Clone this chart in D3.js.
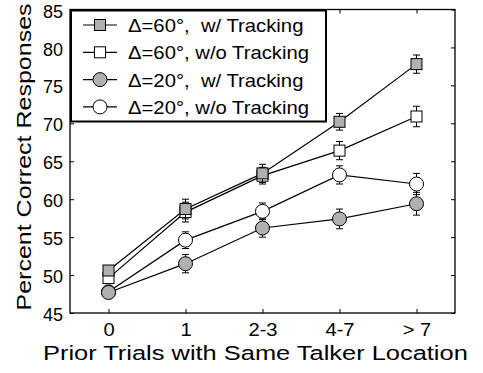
<!DOCTYPE html>
<html>
<head>
<meta charset="utf-8">
<script src="https://cdn.jsdelivr.net/npm/d3@7"></script>
<style>
  body { margin: 0; background: #fff; }
  svg text { font-family: "Liberation Sans", Arial, sans-serif; fill: #000; }
</style>
</head>
<body>
<div id="chart"></div>
<script>
const categories = ['0', '1', '2-3', '4-7', '> 7'];
const yTicks = [45, 50, 55, 60, 65, 70, 75, 80, 85];

const seriesNames = ['\u0394=60\u00b0,  w/ Tracking', '\u0394=60\u00b0, w/o Tracking', '\u0394=20\u00b0,  w/ Tracking', '\u0394=20\u00b0, w/o Tracking'];

const d60With = [50.6, 58.7, 63.4, 70.2, 77.8];
const d60Without = [49.6, 58.3, 63.1, 66.4, 70.9];
const d20With = [47.7, 51.5, 56.2, 57.4, 59.4];
const d20Without = [47.8, 54.6, 58.4, 63.2, 62.0];

const d60WithErr = [0.5, 1.3, 1.2, 1.1, 1.2];
const d60WithoutErr = [0.5, 1.3, 1.1, 1.2, 1.35];
const d20WithErr = [0.5, 1.2, 1.2, 1.3, 1.5];
const d20WithoutErr = [0.5, 1.1, 1.1, 1.2, 1.4];

const width = 483, height = 373;
const margin = { top: 9.5, right: 28, bottom: 60, left: 70 };
const gray = '#b0b0b0';

// white markers get drawn under the filled ones
const series = [
  { name: seriesNames[1], values: d60Without, err: d60WithoutErr, shape: 'square', fill: '#fff' },
  { name: seriesNames[0], values: d60With, err: d60WithErr, shape: 'square', fill: gray },
  { name: seriesNames[3], values: d20Without, err: d20WithoutErr, shape: 'circle', fill: '#fff' },
  { name: seriesNames[2], values: d20With, err: d20WithErr, shape: 'circle', fill: gray },
];
const legendOrder = [1, 0, 3, 2];

const svg = d3.select('#chart').append('svg')
  .attr('width', width)
  .attr('height', height);

// the original font runs wider than Liberation Sans, so stretch text a bit
function stretch(sel, k) {
  sel.each(function () {
    const w = this.getComputedTextLength();
    d3.select(this).attr('textLength', w * k).attr('lengthAdjust', 'spacingAndGlyphs');
  });
}

const x = d3.scaleLinear().domain([-0.5, 4.5]).range([margin.left, width - margin.right]);
const y = d3.scaleLinear().domain([45, 85]).range([height - margin.bottom, margin.top]);

const x0 = x.range()[0], x1 = x.range()[1], y0 = y.range()[0], y1 = y.range()[1];

// inward ticks on all four sides
const tickLen = 4;
svg.append('g').attr('transform', `translate(${x0},0)`)
  .call(d3.axisLeft(y).tickValues(yTicks).tickSize(-tickLen).tickPadding(7))
  .call(g => g.select('.domain').remove())
  .call(g => g.selectAll('text').attr('font-size', 18).attr('dy', '0.42em'));
svg.append('g').attr('transform', `translate(${x1},0)`)
  .call(d3.axisRight(y).tickValues(yTicks).tickSize(-tickLen).tickFormat(''))
  .call(g => g.select('.domain').remove());
svg.append('g').attr('transform', `translate(0,${y0})`)
  .call(d3.axisBottom(x).tickValues(d3.range(categories.length)).tickSize(-tickLen).tickPadding(10)
    .tickFormat(i => categories[i]))
  .call(g => g.select('.domain').remove())
  .call(g => g.selectAll('text').attr('font-size', 18).call(stretch, 1.12));
svg.append('g').attr('transform', `translate(0,${y1})`)
  .call(d3.axisTop(x).tickValues(d3.range(categories.length)).tickSize(-tickLen).tickFormat(''))
  .call(g => g.select('.domain').remove());

svg.append('rect')
  .attr('x', x0).attr('y', y1)
  .attr('width', x1 - x0).attr('height', y0 - y1)
  .attr('fill', 'none').attr('stroke', '#000').attr('stroke-width', 1.3);

const line = d3.line().x((d, i) => x(i)).y(d => y(d));

function drawMarker(g, shape, fill, cx, cy) {
  if (shape === 'square') {
    g.append('rect').attr('x', cx - 5.5).attr('y', cy - 5.5)
      .attr('width', 11).attr('height', 11)
      .attr('fill', fill).attr('stroke', '#000').attr('stroke-width', 1);
  } else {
    g.append('circle').attr('cx', cx).attr('cy', cy).attr('r', 7)
      .attr('fill', fill).attr('stroke', '#000').attr('stroke-width', 1);
  }
}

series.forEach(s => {
  const g = svg.append('g');
  g.append('path').datum(s.values)
    .attr('d', line).attr('fill', 'none').attr('stroke', '#000').attr('stroke-width', 1.2);
  s.values.forEach((v, i) => {
    const cx = x(i);
    const e = s.err[i];
    g.append('line').attr('x1', cx).attr('x2', cx).attr('y1', y(v - e)).attr('y2', y(v + e))
      .attr('stroke', '#000');
    [v - e, v + e].forEach(b => g.append('line')
      .attr('x1', cx - 3.5).attr('x2', cx + 3.5).attr('y1', y(b)).attr('y2', y(b))
      .attr('stroke', '#000'));
  });
  s.values.forEach((v, i) => drawMarker(g, s.shape, s.fill, x(i), y(v)));
});

// legend
const legend = svg.append('g');
legend.append('rect')
  .attr('x', 71).attr('y', 10.5).attr('width', 255).attr('height', 111)
  .attr('fill', '#fff').attr('stroke', '#000').attr('stroke-width', 2);
legendOrder.forEach((si, row) => {
  const s = series[si];
  const ly = 25 + row * 27.3;
  legend.append('line').attr('x1', 83).attr('x2', 117).attr('y1', ly).attr('y2', ly)
    .attr('stroke', '#000').attr('stroke-width', 1.2);
  drawMarker(legend, s.shape, s.fill, 100, ly);
  legend.append('text').attr('x', 128).attr('y', ly + 7)
    .attr('font-size', 18.6).attr('xml:space', 'preserve').style('white-space', 'pre')
    .text(s.name)
    .call(stretch, 1.09);
});

svg.append('text')
  .attr('x', 43).attr('y', 360)
  .attr('font-size', 20.5)
  .text('Prior Trials with Same Talker Location')
  .call(stretch, 1.24);

svg.append('text')
  .attr('transform', `translate(31,157) rotate(-90)`)
  .attr('text-anchor', 'middle').attr('font-size', 20)
  .text('Percent Correct Responses')
  .call(stretch, 1.25);
</script>
</body>
</html>
